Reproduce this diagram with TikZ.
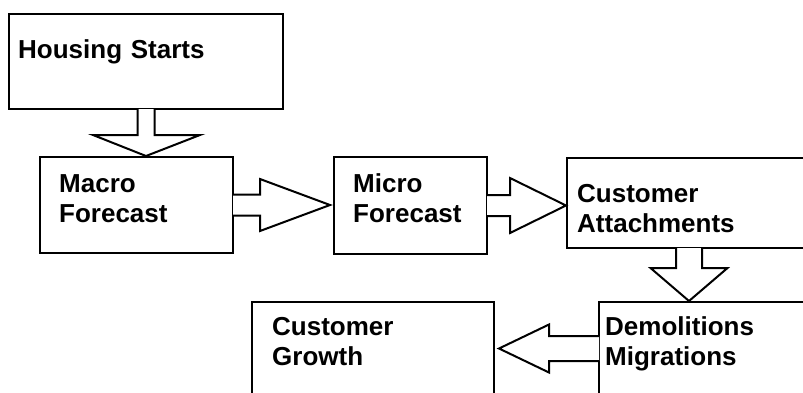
\documentclass[tikz,border=0pt]{standalone}
\usepackage{fontspec}
\setmainfont{Liberation Sans}
\usetikzlibrary{calc}
\begin{document}
\begin{tikzpicture}[x=1pt,y=-1pt,
  box/.style={draw, line width=2pt, rectangle, inner sep=0pt, anchor=north west},
  boxtext/.style={anchor=base west, inner sep=0pt, align=left, text width=300pt,
    font=\fontsize{26}{30.5}\selectfont\bfseries},
  blockarrow/.style={draw, line width=2pt, fill=white, line join=miter}]
\useasboundingbox (0,0) rectangle (803,392);
\clip (0,0) rectangle (803,392);

% boxes
\node[box, minimum width=274pt, minimum height=95pt] (hs) at (8,13) {};
\node[box, minimum width=193pt, minimum height=96pt] (macro) at (39,156) {};
\node[box, minimum width=153pt, minimum height=97pt] (micro) at (333,156) {};
\node[box, minimum width=264pt, minimum height=90pt] (attach) at (566,157) {};
\node[box, minimum width=232pt, minimum height=119pt] (demol) at (598,301) {};
\node[box, minimum width=242pt, minimum height=119pt] (growth) at (251,301) {};

% box texts
\node[boxtext] (t1) at ($(hs.north west)+(10,45)$) {Housing Starts};
\node[boxtext] (t2) at ($(macro.north west)+(20,36)$) {Macro\\Forecast};
\node[boxtext] (t3) at ($(micro.north west)+(20,36)$) {Micro\\Forecast};
\node[boxtext] (t4) at ($(attach.north west)+(11,45)$) {Customer\\Attachments};
\node[boxtext] (t5) at ($(demol.north west)+(7,34)$) {Demolitions\\Migrations};
\node[boxtext] (t6) at ($(growth.north west)+(21,34)$) {Customer\\Growth};

% Housing Starts -> Macro Forecast
\draw[blockarrow] ($(hs.south)+(-8.5,-1)$) -- ($(hs.south)+(-8.5,25)$)
  -- ($(hs.south)+(-53,25)$) -- (hs.south |- macro.north)
  -- ($(hs.south)+(54,25)$) -- ($(hs.south)+(8.5,25)$) -- ($(hs.south)+(8.5,-1)$);

% Macro Forecast -> Micro Forecast
\draw[blockarrow] ($(macro.east)+(-1,-10.5)$) -- ($(macro.east)+(26,-10.5)$)
  -- ($(macro.east)+(26,-26)$) -- ($(micro.west |- macro.east)+(-3,0)$)
  -- ($(macro.east)+(26,26)$) -- ($(macro.east)+(26,10.5)$) -- ($(macro.east)+(-1,10.5)$);

% Micro Forecast -> Customer Attachments
\draw[blockarrow] ($(micro.east)+(-1,-10.5)$) -- ($(micro.east)+(22,-10.5)$)
  -- ($(micro.east)+(22,-27.5)$) -- (attach.west |- micro.east)
  -- ($(micro.east)+(22,27.5)$) -- ($(micro.east)+(22,10.5)$) -- ($(micro.east)+(-1,10.5)$);

% Customer Attachments -> Demolitions Migrations
\coordinate (abase) at ($(attach.south west)+(123,0)$);
\draw[blockarrow] ($(abase)+(-13,-1)$) -- ($(abase)+(-13,19)$)
  -- ($(abase)+(-38.5,19)$) -- (abase |- demol.north)
  -- ($(abase)+(38.5,19)$) -- ($(abase)+(13,19)$) -- ($(abase)+(13,-1)$);

% Demolitions Migrations -> Customer Growth
\coordinate (dbase) at ($(demol.north west)+(0,47.5)$);
\draw[blockarrow] ($(dbase)+(1,-12.5)$) -- ($(dbase)+(-49,-12.5)$)
  -- ($(dbase)+(-49,-24)$) -- ($(growth.east |- dbase)+(4,0)$)
  -- ($(dbase)+(-49,24)$) -- ($(dbase)+(-49,12.5)$) -- ($(dbase)+(1,12.5)$);
\end{tikzpicture}
\end{document}
